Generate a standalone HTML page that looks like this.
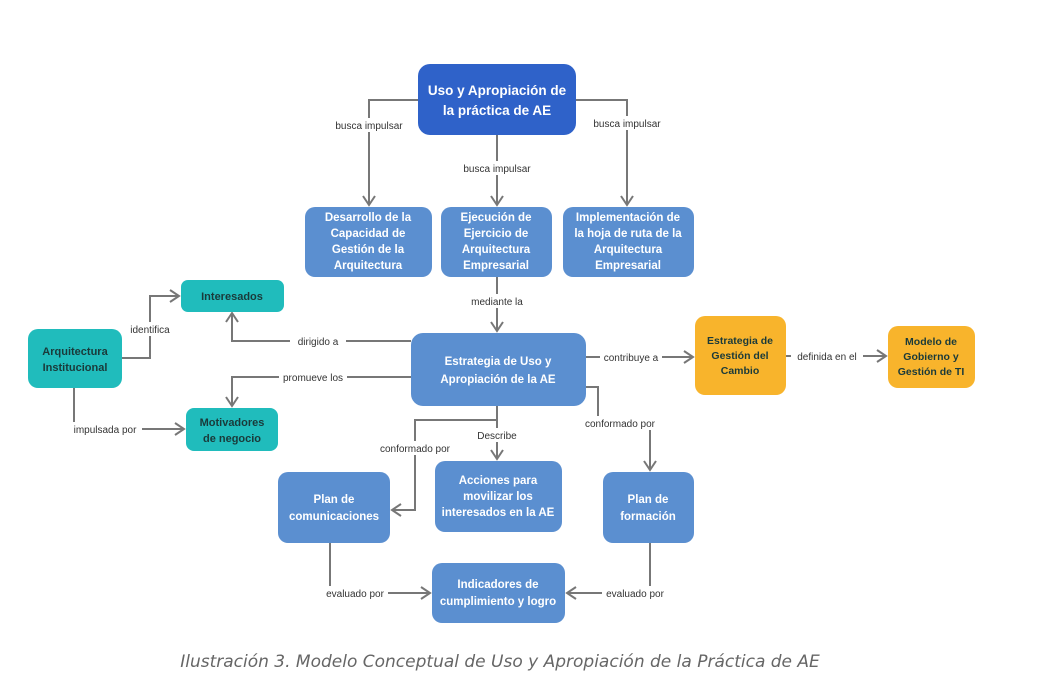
<!DOCTYPE html>
<html><head><meta charset="utf-8"><style>
body{margin:0;background:#fff;width:1039px;height:683px;overflow:hidden}
svg{display:block}
.l{font-family:"Liberation Sans",sans-serif;font-size:10px;fill:#333;text-anchor:middle}
.b{font-family:"Liberation Sans",sans-serif;font-size:11.5px;font-weight:bold;fill:#fff;text-anchor:middle}
.d{font-family:"Liberation Sans",sans-serif;font-size:11px;font-weight:bold;fill:#1a3a3a;text-anchor:middle}
.c{stroke:#777;stroke-width:2;fill:none}
</style></head><body>
<svg width="1039" height="683" viewBox="0 0 1039 683">
<defs><marker id="a" markerWidth="14" markerHeight="14" refX="11" refY="7" orient="auto" markerUnits="userSpaceOnUse"><path d="M2,1 L11,7 L2,13" fill="none" stroke="#777" stroke-width="2"/></marker></defs>
<g class="c">
<path d="M418,100 H369 V205" marker-end="url(#a)"/>
<path d="M497,135 V205" marker-end="url(#a)"/>
<path d="M576,100 H627 V205" marker-end="url(#a)"/>
<path d="M497,277 V331" marker-end="url(#a)"/>
<path d="M411,341 H232 V313" marker-end="url(#a)"/>
<path d="M411,377 H232 V406" marker-end="url(#a)"/>
<path d="M122,358 H150 V296 H179" marker-end="url(#a)"/>
<path d="M74,388 V429 H184" marker-end="url(#a)"/>
<path d="M586,357 H693" marker-end="url(#a)"/>
<path d="M786,356 H886" marker-end="url(#a)"/>
<path d="M586,387 H598 V423 H650 V470" marker-end="url(#a)"/>
<path d="M497,406 V459" marker-end="url(#a)"/>
<path d="M497,420 H415 V510 H392" marker-end="url(#a)"/>
<path d="M330,543 V593 H430" marker-end="url(#a)"/>
<path d="M650,543 V593 H567" marker-end="url(#a)"/>
</g>
<g class="l">
<rect x="330" y="118" width="78" height="14" fill="#fff"/><text x="369" y="129">busca impulsar</text>
<rect x="458" y="161" width="78" height="14" fill="#fff"/><text x="497" y="172">busca impulsar</text>
<rect x="588" y="116" width="78" height="14" fill="#fff"/><text x="627" y="127">busca impulsar</text>
<rect x="467" y="294" width="60" height="14" fill="#fff"/><text x="497" y="305">mediante la</text>
<rect x="290" y="334" width="56" height="14" fill="#fff"/><text x="318" y="345">dirigido a</text>
<rect x="279" y="370" width="68" height="14" fill="#fff"/><text x="313" y="381">promueve los</text>
<rect x="127" y="322" width="46" height="14" fill="#fff"/><text x="150" y="333">identifica</text>
<rect x="68" y="422" width="74" height="14" fill="#fff"/><text x="105" y="433">impulsada por</text>
<rect x="600" y="350" width="62" height="14" fill="#fff"/><text x="631" y="361">contribuye a</text>
<rect x="791" y="349" width="72" height="14" fill="#fff"/><text x="827" y="360">definida en el</text>
<rect x="580" y="416" width="80" height="14" fill="#fff"/><text x="620" y="427">conformado por</text>
<rect x="474" y="428" width="46" height="14" fill="#fff"/><text x="497" y="439">Describe</text>
<rect x="375" y="441" width="80" height="14" fill="#fff"/><text x="415" y="452">conformado por</text>
<rect x="322" y="586" width="66" height="14" fill="#fff"/><text x="355" y="597">evaluado por</text>
<rect x="602" y="586" width="66" height="14" fill="#fff"/><text x="635" y="597">evaluado por</text>
</g>
<rect x="418" y="64" width="158" height="71" rx="12" fill="#2f62c9"/>
<text class="b" style="font-size:13.5px"><tspan x="497" y="95">Uso y Apropiación de</tspan><tspan x="497" y="115">la práctica de AE</tspan></text>
<g fill="#5b8fd0">
<rect x="305" y="207" width="127" height="70" rx="10"/>
<rect x="441" y="207" width="111" height="70" rx="10"/>
<rect x="563" y="207" width="131" height="70" rx="10"/>
<rect x="411" y="333" width="175" height="73" rx="12"/>
<rect x="278" y="472" width="112" height="71" rx="10"/>
<rect x="435" y="461" width="127" height="71" rx="10"/>
<rect x="603" y="472" width="91" height="71" rx="10"/>
<rect x="432" y="563" width="133" height="60" rx="10"/>
</g>
<text class="b"><tspan x="368" y="221">Desarrollo de la</tspan><tspan x="368" y="237">Capacidad de</tspan><tspan x="368" y="253">Gestión de la</tspan><tspan x="368" y="269">Arquitectura</tspan></text>
<text class="b"><tspan x="496" y="221">Ejecución de</tspan><tspan x="496" y="237">Ejercicio de</tspan><tspan x="496" y="253">Arquitectura</tspan><tspan x="496" y="269">Empresarial</tspan></text>
<text class="b"><tspan x="628" y="221">Implementación de</tspan><tspan x="628" y="237">la hoja de ruta de la</tspan><tspan x="628" y="253">Arquitectura</tspan><tspan x="628" y="269">Empresarial</tspan></text>
<text class="b"><tspan x="498" y="365">Estrategia de Uso y</tspan><tspan x="498" y="383">Apropiación de la AE</tspan></text>
<text class="b"><tspan x="334" y="503">Plan de</tspan><tspan x="334" y="520">comunicaciones</tspan></text>
<text class="b"><tspan x="498" y="484">Acciones para</tspan><tspan x="498" y="500">movilizar los</tspan><tspan x="498" y="516">interesados en la AE</tspan></text>
<text class="b"><tspan x="648" y="503">Plan de</tspan><tspan x="648" y="520">formación</tspan></text>
<text class="b"><tspan x="498" y="588">Indicadores de</tspan><tspan x="498" y="605">cumplimiento y logro</tspan></text>
<g fill="#20bcbc">
<rect x="181" y="280" width="103" height="32" rx="7"/>
<rect x="28" y="329" width="94" height="59" rx="10"/>
<rect x="186" y="408" width="92" height="43" rx="8"/>
</g>
<text class="d" x="232" y="300">Interesados</text>
<text class="d"><tspan x="75" y="355">Arquitectura</tspan><tspan x="75" y="371">Institucional</tspan></text>
<text class="d"><tspan x="232" y="426">Motivadores</tspan><tspan x="232" y="442">de negocio</tspan></text>
<g fill="#f8b42c">
<rect x="695" y="316" width="91" height="79" rx="10"/>
<rect x="888" y="326" width="87" height="62" rx="10"/>
</g>
<text class="d" style="font-size:10.5px"><tspan x="740" y="344">Estrategia de</tspan><tspan x="740" y="359">Gestión del</tspan><tspan x="740" y="374">Cambio</tspan></text>
<text class="d" style="font-size:10.5px"><tspan x="931" y="345">Modelo de</tspan><tspan x="931" y="360">Gobierno y</tspan><tspan x="931" y="375">Gestión de TI</tspan></text>
<text x="500" y="667" style="font-family:'DejaVu Sans',sans-serif;font-size:17px;font-style:italic;fill:#666;text-anchor:middle">Ilustración 3. Modelo Conceptual de Uso y Apropiación de la Práctica de AE</text>
</svg>
</body></html>
